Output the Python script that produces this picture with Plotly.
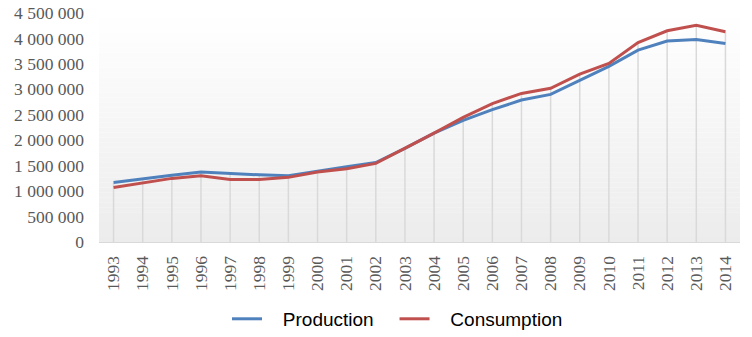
import plotly.graph_objects as go

years = [str(y) for y in range(1993, 2015)]
production = [1170000, 1245000, 1310000, 1375000, 1345000, 1320000, 1300000, 1395000,
              1480000, 1560000, 1840000, 2140000, 2390000, 2600000, 2790000, 2900000,
              3170000, 3450000, 3770000, 3950000, 3980000, 3900000]
consumption = [1070000, 1155000, 1250000, 1300000, 1230000, 1230000, 1270000, 1375000,
               1440000, 1545000, 1840000, 2140000, 2450000, 2720000, 2920000, 3020000,
               3300000, 3510000, 3920000, 4150000, 4260000, 4130000]
y_ticks = [0, 500000, 1000000, 1500000, 2000000, 2500000, 3000000, 3500000, 4000000, 4500000]
y_ticktext = ["0", "500 000", "1 000 000", "1 500 000", "2 000 000", "2 500 000",
              "3 000 000", "3 500 000", "4 000 000", "4 500 000"]

BLUE = "#4F81BD"
RED = "#C0504D"
SERIF = "Liberation Serif, Times New Roman, serif"
PAD = "\u00a0\u00a0\u00a0"  # visual gap between legend swatch and label

# drop lines from highest series point down to axis
dx, dy = [], []
for yr, p, c in zip(years, production, consumption):
    dx += [yr, yr, None]
    dy += [0, max(p, c), None]

fig = go.Figure()
fig.add_trace(go.Scatter(x=dx, y=dy, mode="lines", line=dict(color="#d9d9d9", width=1.5),
                         showlegend=False, hoverinfo="skip"))
fig.add_trace(go.Scatter(x=years, y=production, mode="lines", name=PAD + "Production" + PAD,
                         line=dict(color=BLUE, width=3)))
fig.add_trace(go.Scatter(x=years, y=consumption, mode="lines", name=PAD + "Consumption",
                         line=dict(color=RED, width=3)))

# gradient plot background (white top -> light grey bottom)
n = 46
shapes = []
for i in range(n):
    t = (i + 0.5) / n  # 0 bottom .. 1 top
    g = int(round(236 + (255 - 236) * t))
    shapes.append(dict(type="rect", xref="x domain", yref="y domain",
                       x0=0, x1=1, y0=i / n, y1=(i + 1) / n,
                       fillcolor=f"rgb({g},{g},{g})", line=dict(width=0), layer="below"))

fig.update_layout(
    width=752, height=337,
    margin=dict(l=99, r=12, t=13, b=95, autoexpand=False),
    paper_bgcolor="white", plot_bgcolor="white",
    shapes=shapes,
    showlegend=True,
    legend=dict(orientation="h", x=0.1997, xanchor="left", y=-0.336, yanchor="middle",
                font=dict(family="Liberation Sans, Arial, sans-serif", size=19, color="#000000"),
                bgcolor="rgba(0,0,0,0)", itemwidth=30, tracegroupgap=0),
    font=dict(family=SERIF, size=17.5, color="#595959"),
)
fig.update_xaxes(type="category", categoryorder="array", categoryarray=years,
                 range=[-0.5, len(years) - 0.5], tickangle=-90,
                 showgrid=False, zeroline=False, showline=True, linecolor="#d9d9d9", linewidth=1,
                 ticks="", ticklabelstandoff=6, automargin=False,
                 tickfont=dict(family=SERIF, size=17.5, color="#595959"))
fig.update_yaxes(range=[0, 4500000], tickvals=y_ticks, ticktext=y_ticktext,
                 showgrid=False, zeroline=False, showline=False, ticks="",
                 ticklabelstandoff=14, automargin=False,
                 tickfont=dict(family=SERIF, size=17.5, color="#595959"))

fig.write_html("out.html")
